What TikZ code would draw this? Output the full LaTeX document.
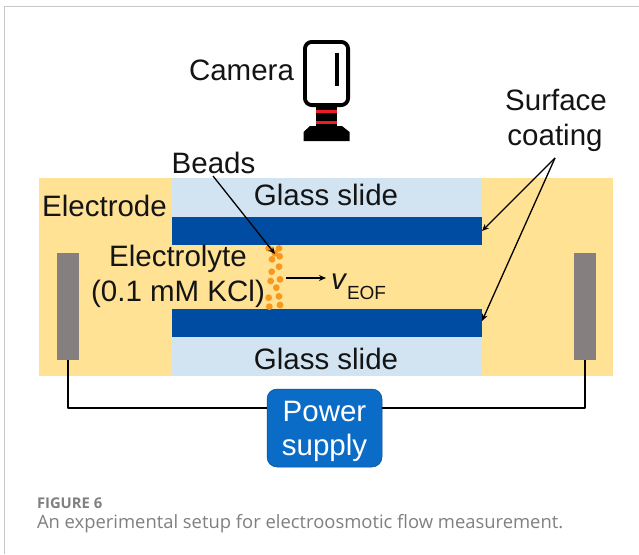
\documentclass[tikz,border=0pt]{standalone}
\usepackage{fontspec}
\setmainfont{Liberation Sans}
\newfontfamily\capfont{Open Sans}
\usetikzlibrary{arrows.meta,positioning}
\definecolor{yel}{HTML}{FFE294}
\definecolor{glass}{HTML}{D2E4F2}
\definecolor{coat}{HTML}{004CA3}
\definecolor{elec}{HTML}{857F7F}
\definecolor{psu}{HTML}{0B6CC7}
\definecolor{bead}{HTML}{F8991D}
\definecolor{frameg}{HTML}{C8C8C8}
\definecolor{capg}{HTML}{808080}
\definecolor{redb}{HTML}{EE1C25}
\tikzset{
  block/.style={rectangle,inner sep=0pt,outer sep=0pt},
  lab/.style={inner sep=0pt,outer sep=0pt,anchor=base,font=\fontsize{29.5}{34}\selectfont,text=black!92},
  beaddot/.style={circle,fill=bead,inner sep=0pt,minimum size=6.8pt},
  wire/.style={line width=2.4pt,black},
  pointer/.style={line width=1.3pt,-{Stealth[length=7pt,width=6pt]}},
  campart/.style={fill=black,draw=none}
}
\begin{document}
\begin{tikzpicture}[x=1pt,y=-1pt]
\useasboundingbox (0,0) rectangle (639,554);
\fill[white] (0,0) rectangle (639,554);
\draw[frameg,line width=1.3pt] (4.5,554) -- (4.5,6.5) -- (639,6.5);
% slab
\node[block,fill=yel,minimum width=574pt,minimum height=198pt] (bath) at (326,277) {};
\node[block,fill=glass,minimum width=310pt,minimum height=39pt] (glassT) at (327,197.5) {};
\node[block,fill=glass,minimum width=310pt,minimum height=39pt] (glassB) at (327,356.5) {};
\node[block,fill=coat,minimum width=310pt,minimum height=28pt] (coatT) at (327,231) {};
\node[block,fill=coat,minimum width=310pt,minimum height=28pt] (coatB) at (327,323) {};
\node[block,fill=elec,minimum width=22pt,minimum height=107pt] (elL) at (68,306.5) {};
\node[block,fill=elec,minimum width=22pt,minimum height=107pt] (elR) at (585,306.5) {};
% power
\node[block,fill=psu,draw=psu!70!black,line width=.5pt,rounded corners=10pt,minimum width=115pt,minimum height=78pt] (power) at (324.5,428) {};
\node[lab,text=white] (powerA) at (324.5,421) {Power};
\node[lab,text=white] (powerB) at (324.5,455) {supply};
\draw[wire,line join=round] (elL.south) |- ([yshift=20pt]power.west);
\draw[wire,line join=round] (elR.south) |- ([yshift=20pt]power.east);
% camera
\draw[black,line width=3.8pt,rounded corners=7pt,fill=white] (304.9,41.9) rectangle (348.1,105.1);
\fill[black] (334.6,53) rectangle (339.4,86);
\fill[campart] (316,106) rectangle (337,127);
\fill[redb] (316,109.5) rectangle (337,112.5);
\fill[redb] (316,120.5) rectangle (337,123.5);
\fill[campart] (310,126) -- (342,126) -- (349.5,132) -- (349.5,141) -- (303.5,141) -- (303.5,132) -- cycle;
% beads
\foreach \n/\a/\b in {a/116/55,b/147/55,c/135/70,d/149/79,e/126/88,f/147/110,g/125/125,h/122/153,i/150/148,j/139/173,k/116/203,l/147/199,m/150/225,o/118/230}
  \node[beaddot] (bead\n) at ({230+\a/3},{230+\b/3}) {};
% labels
\node[lab] (camera) at (241.5,80) {Camera};
\node[lab] (surface) at (556,110) {Surface};
\node[lab] (coating) at (555,145) {coating};
\node[lab] (beads) at (213.5,173) {Beads};
\node[lab] (electrode) at (104.5,216) {Electrode};
\node[lab] (glassTl) at (326,205) {Glass slide};
\node[lab] (glassBl) at (326,369) {Glass slide};
\node[lab] (electrolyte) at (178,266) {Electrolyte};
\node[lab] (kcl) at (178,301) {(0.1 mM KCl)};
\node[lab,anchor=base west] (veof) at (331,289) {\textit{v}};
\node[inner sep=0pt,outer sep=0pt,anchor=base west,font=\fontsize{19}{22}\selectfont,text=black!92] (eof) at (347,299) {EOF};
% pointers
\coordinate (beadTip) at (275,254);
\coordinate (beadTail) at (213,176);
\coordinate (apex) at (555,158);
\coordinate (flowTail) at (286,278);
\coordinate (flowTip) at (326,278);
\draw[pointer] (beadTail) -- (beadTip);
\draw[pointer] (apex) -- (coatT.east);
\draw[pointer] (apex) -- ([yshift=2pt]coatB.east);
\draw[pointer] (flowTail) -- (flowTip);
% caption
\node[inner sep=0pt,outer sep=0pt,anchor=base west,font=\capfont\fontsize{14.8}{17}\selectfont\bfseries,text=capg] (figlabel) at (37,508) {FIGURE 6};
\node[inner sep=0pt,outer sep=0pt,anchor=base west,font=\capfont\fontsize{18.4}{22}\selectfont,text=capg] (caption) at (37,528) {An experimental setup for electroosmotic flow measurement.};
\end{tikzpicture}
\end{document}
